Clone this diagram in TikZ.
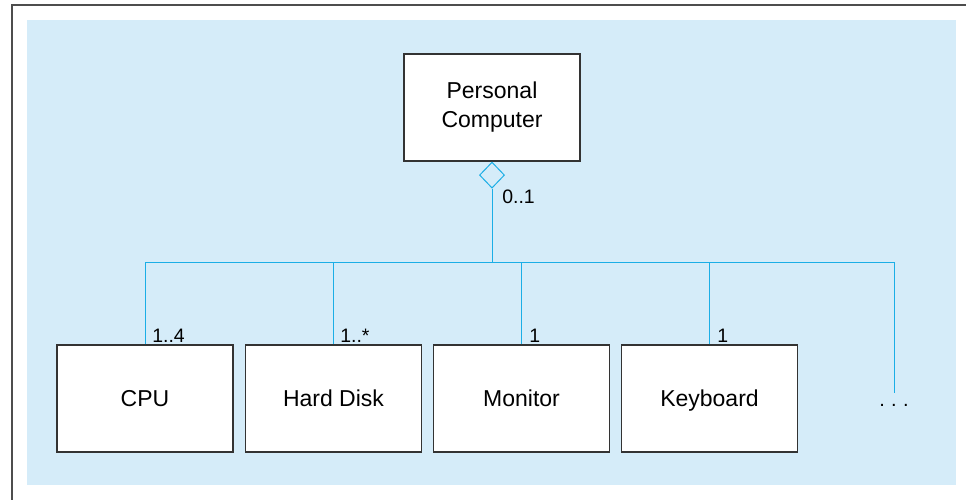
\documentclass[tikz,border=0pt]{standalone}
\usepackage{fontspec}
\setmainfont{Liberation Sans}
\usetikzlibrary{shapes.geometric}
\definecolor{bgblue}{HTML}{D5ECF9}
\definecolor{lineblue}{HTML}{1BAEE6}
\definecolor{boxgray}{HTML}{333333}
\definecolor{framegray}{HTML}{4D4D4D}
\tikzset{
  classbox/.style={draw=boxgray, line width=0.9pt, fill=white, minimum width=132pt, minimum height=80.25pt, inner sep=0pt, align=center, font=\fontsize{17.25}{21.75}\selectfont},
  oneline/.style={text height=12.35pt, text depth=0pt},
  conn/.style={draw=lineblue, line width=0.75pt},
  lbl/.style={font=\fontsize{14.6}{17}\selectfont, inner sep=0pt},
  aggr/.style={shape=diamond, draw=lineblue, line width=0.75pt, fill=bgblue, minimum width=18.75pt, minimum height=19.5pt, inner sep=0pt}
}
\begin{document}
\begin{tikzpicture}[x=0.75pt,y=-0.75pt]
\useasboundingbox (0,0) rectangle (966,500);
\fill[bgblue] (27,20) rectangle (956,485);
\draw[framegray, line width=1.1pt] (966,5) -- (12,5) -- (12,500);
% nodes
\node[classbox] (pc) at (492,107.5) {Personal\\Computer};
\node[aggr, anchor=north] (dia) at (pc.south) {};
\node[classbox, oneline] (cpu) at (145,398.5) {CPU};
\node[classbox, oneline] (hd) at (333.5,398.5) {Hard Disk};
\node[classbox, oneline] (mon) at (521.5,398.5) {Monitor};
\node[classbox, oneline] (kb) at (709.5,398.5) {Keyboard};
\node[font=\fontsize{15}{18}\selectfont, inner sep=0pt] (more) at (894,405) {.\kern4.8pt.\kern4.8pt.};
% bus coordinates
\coordinate (bus) at (dia.south |- 0,262);
\coordinate (busL) at (cpu.north |- 0,262);
\coordinate (busR) at (894,262);
\coordinate (moreTop) at (894,393);
% connectors
\draw[conn] (dia.south) -- (bus);
\draw[conn] (cpu.north) -- (busL) -- (busR) -- (moreTop);
\draw[conn] (hd.north) -- (hd.north |- bus);
\draw[conn] (mon.north) -- (mon.north |- bus);
\draw[conn] (kb.north) -- (kb.north |- bus);
% multiplicities
\node[lbl, anchor=base west] at (502,203) {0..1};
\node[lbl, anchor=base west] at (152,342) {1..4};
\node[lbl, anchor=base west] at (340,342) {1..*};
\node[lbl, anchor=base west] at (529,342) {1};
\node[lbl, anchor=base west] at (717,342) {1};
\end{tikzpicture}
\end{document}
